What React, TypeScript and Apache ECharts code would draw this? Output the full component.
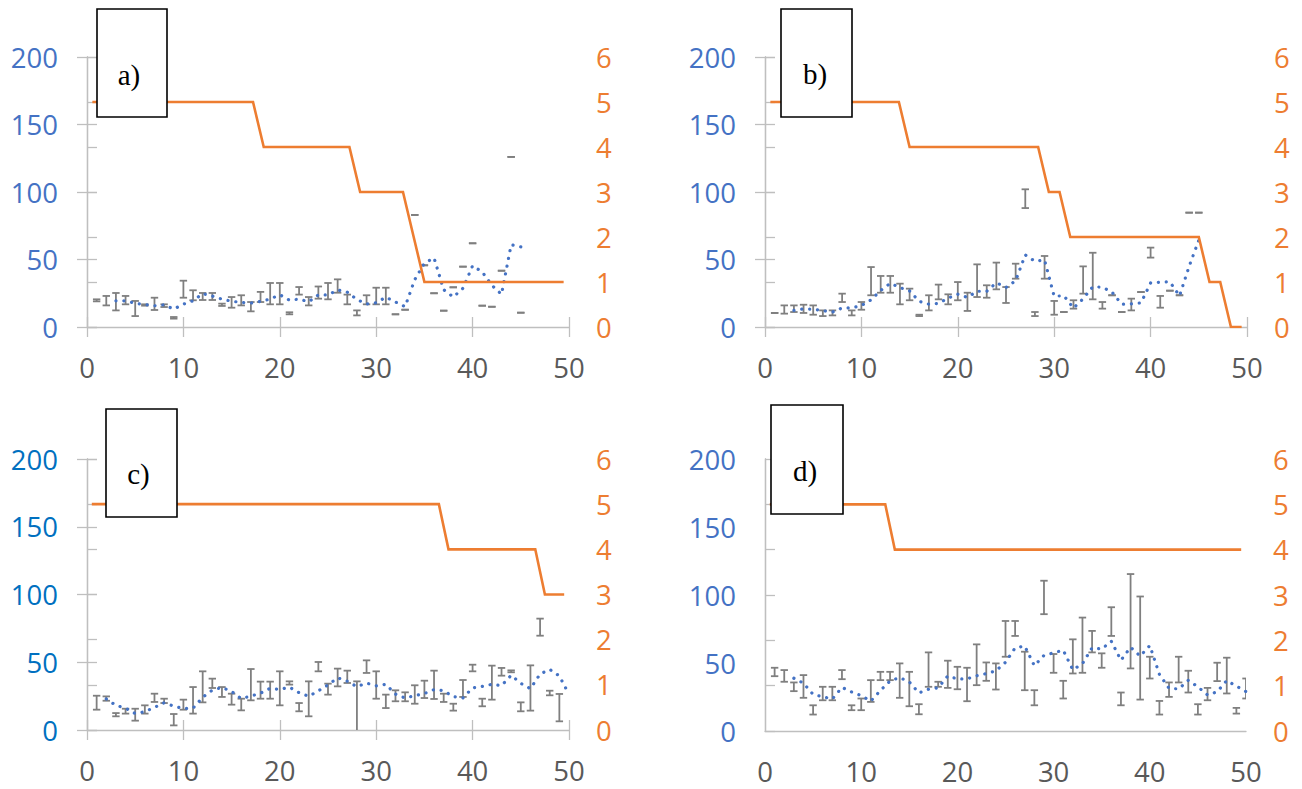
import React, { useEffect, useRef } from "react";
import * as echarts from "echarts";

// ---------- DATA ----------
// Panel a) error bars (x = 1..45): low / high
const aLow = [19, 16, 12.3, 16.8, 8.1, 15.8, 12.6, 14.8, 6.2, 21.7, 19.8, 20, 20, 15.6, 14.3, 16, 11.6, 18.5, 16.8, 16.8, 9.4, 24, 16, 21, 20.5, 25.4, 16.8, 8.6, 16.8, 16.8, 16.8, 9.4, 12.8, 83, 45.7, 25, 12.1, 29.4, 44.7, 62, 15.8, 15, 41.7, 126, 10.6];
const aHigh = [20.5, 23, 25.2, 23, 19.3, 16.8, 21.7, 16.8, 7.4, 34.3, 27.2, 25.2, 25.2, 17.3, 22.2, 23.5, 18.5, 26, 32.6, 32.6, 10.9, 29.6, 22.2, 30, 32.6, 35.3, 24, 12.3, 23.5, 29.1, 29.1, 9.4, 12.8, 83, 45.7, 25, 12.1, 29.4, 44.7, 62, 15.8, 15, 41.7, 126, 10.6];
// moving-average trend (x = 3..45)
const aTrend = [19.4, 19.4, 17.5, 16.6, 15.7, 16.4, 13.3, 16.9, 19.4, 24.7, 22.9, 20.6, 19.1, 18.2, 17.7, 19, 20.7, 23.9, 19.9, 20.6, 18.7, 23.8, 23.7, 27.5, 25.8, 20.4, 17, 17.9, 22.1, 18.5, 15.1, 35.1, 47.2, 51.2, 27.6, 22.2, 28.7, 45.4, 40.8, 30.9, 24.2, 60.9, 59.4];
const aStep = [5, 5, 5, 5, 5, 5, 5, 5, 5, 5, 5, 5, 5, 5, 5, 5, 4, 4, 4, 4, 4, 4, 4, 4, 4, 3, 3, 3, 3, 3, 2, 1, 1, 1, 1, 1, 1, 1, 1, 1, 1, 1, 1, 1, 1];

// Panel b)
const bLow = [10.4, 9.9, 11.1, 10.4, 9.1, 8.1, 8.6, 18.5, 8.6, 12.8, 23.5, 25.4, 25.4, 16.8, 19.8, 8.1, 12.3, 20.5, 16.8, 19.8, 11.9, 22.2, 21.7, 27.9, 17.8, 35.8, 88.1, 8.1, 35.8, 9.1, 11.1, 13.6, 24.7, 20.5, 13.6, 23.5, 11.1, 12.3, 25.9, 51.4, 14.3, 26.9, 23.5, 84.7, 84.7];
const bHigh = [10.4, 16, 16, 16.5, 16, 12.3, 12.3, 24.7, 12.3, 18.5, 44.4, 37.8, 37.8, 32.1, 28.4, 9.1, 23.5, 31.4, 24.2, 33.3, 25.4, 46.4, 30.9, 47.7, 29.6, 46.9, 102, 11.1, 52.6, 19.3, 11.1, 19.8, 44.9, 55, 18.5, 23.5, 11.1, 21, 25.9, 58.8, 23, 26.9, 23.5, 84.7, 84.7];
const bTrend = [12.3, 13.4, 13.2, 12.1, 11.1, 14.1, 14.2, 15.9, 20.1, 27.1, 32.4, 29.2, 26.7, 19, 16.9, 17.5, 21.4, 24.3, 21.9, 26.5, 26.4, 32.8, 29.3, 34.3, 53.4, 48.7, 49.6, 22.7, 23.2, 14, 20.9, 29.8, 29.5, 25.8, 16.9, 17.1, 17.9, 32.6, 33.2, 33.5, 23, 45, 64.3];
const bStep = [5, 5, 5, 5, 5, 5, 5, 5, 5, 5, 5, 5, 5, 4, 4, 4, 4, 4, 4, 4, 4, 4, 4, 4, 4, 4, 3, 3, 2, 2, 2, 2, 2, 2, 2, 2, 2, 2, 2, 2, 2, 1, 1, 0, 0];

// Panel c)
const cLow = [15, 21.6, 10.1, 12.1, 6.9, 12.1, 20.7, 19.9, 3.4, 15, 12.1, 20.4, 31, 24.4, 18.7, 14.5, 21.9, 23.1, 23.1, 18.2, 33.5, 13.8, 10.1, 43.3, 26.1, 32.2, 34.7, -2, 42.1, 23.1, 16.2, 21.2, 21.2, 19.4, 23.6, 22.9, 20.7, 14.3, 24.4, 43.3, 17.5, 22.4, 40.1, 42.6, 13.8, 14.3, 69.6, 25.6, 6.4];
const cHigh = [25.3, 24.8, 12.5, 15.7, 15.7, 18.2, 26.8, 23.1, 11.8, 22.4, 31.7, 43.3, 37.9, 31.7, 26.8, 23.1, 45, 35.7, 35.7, 43.3, 35.9, 19.9, 35.9, 50.2, 34.2, 45.3, 43.8, 35.9, 51.4, 43.3, 26.1, 29.3, 27.8, 33, 36.4, 43.8, 26.8, 19.4, 36.9, 48.2, 23.1, 47.5, 45.8, 44, 20.4, 47.7, 82.2, 29, 26.6];
// trend x = 2..50
const cTrend = [22.9, 18.2, 16.1, 12.2, 13.5, 16.7, 20.1, 17.6, 15.9, 16.1, 24.2, 29.4, 31.4, 28.4, 23.2, 25, 27.2, 30.8, 29.9, 31.6, 27.5, 24.9, 28.9, 33.3, 38.5, 36, 32, 34.6, 32.6, 33.7, 26.5, 23.6, 25.3, 26.9, 29.8, 29, 24.6, 23.7, 31.1, 32.2, 33.7, 32.7, 40.4, 34.4, 30.5, 41.3, 44.7, 39.9, 26.3];
const cStep = [5, 5, 5, 5, 5, 5, 5, 5, 5, 5, 5, 5, 5, 5, 5, 5, 5, 5, 5, 5, 5, 5, 5, 5, 5, 5, 5, 5, 5, 5, 5, 5, 5, 5, 5, 5, 5, 4, 4, 4, 4, 4, 4, 4, 4, 4, 4, 3, 3, 3];

// Panel d)
const dLow = [40.3, 36.2, 29.3, 24.4, 12.1, 22.6, 22.6, 38.1, 15.3, 15.3, 21.4, 37.4, 37.4, 24.4, 18.2, 12.3, 32.5, 32.5, 31.7, 30.7, 21.9, 33.7, 36.9, 30.5, 54.6, 69.9, 30, 18.9, 85.9, 42.8, 23.9, 42.3, 42.8, 57.8, 46.5, 69.9, 18.9, 46, 23.1, 38.6, 12.1, 25.1, 35.7, 28.3, 12.1, 22.6, 36.7, 27.6, 12.8, 23.9];
const dHigh = [46.5, 44.8, 35.7, 41.1, 18.9, 32.5, 32.5, 44.8, 18.9, 23.9, 37.4, 43.5, 43.5, 49.7, 43.5, 19.7, 57.8, 36.2, 51.7, 47.2, 46.5, 63.7, 50.4, 49.7, 80.9, 80.9, 58.3, 30, 110.5, 56.6, 36.9, 67.4, 83.4, 73.6, 57.1, 91, 28.3, 115.4, 98.9, 54.6, 22.1, 35.7, 54.6, 44.3, 19.7, 31.7, 50.2, 53.9, 17, 38.6];
const dTrend = [38.8, 35.2, 26.9, 25.2, 23.5, 32.1, 28.7, 26, 22, 29.8, 36.8, 39.3, 36.1, 28, 30.7, 31.8, 40.4, 38.3, 38.3, 40.6, 42.2, 44.2, 50.5, 61.1, 62.5, 48, 55.6, 57.5, 59.4, 45, 49.5, 61.2, 60.2, 66, 52, 61.6, 55.1, 62.8, 41.6, 31.4, 30.9, 37.3, 32.5, 26.5, 28.8, 37.1, 33, 29];
const dStep = [5, 5, 5, 5, 5, 5, 5, 5, 5, 5, 5, 5, 5, 4, 4, 4, 4, 4, 4, 4, 4, 4, 4, 4, 4, 4, 4, 4, 4, 4, 4, 4, 4, 4, 4, 4, 4, 4, 4, 4, 4, 4, 4, 4, 4, 4, 4, 4, 4, 4];

const panelLabels = ["a)", "b)", "c)", "d)"];
const xFirst = 1; // first x of the error-bar points

const panels = [
  { low: aLow, high: aHigh, trend: aTrend, trendStart: 3, step: aStep },
  { low: bLow, high: bHigh, trend: bTrend, trendStart: 3, step: bStep },
  { low: cLow, high: cHigh, trend: cTrend, trendStart: 2, step: cStep },
  { low: dLow, high: dHigh, trend: dTrend, trendStart: 3, step: dStep },
];

// ---------- LAYOUT / STYLE ----------
const GRIDS = [
  { left: 87, top: 57, width: 482, height: 270 },
  { left: 765, top: 57, width: 482, height: 270 },
  { left: 87, top: 459, width: 482, height: 271 },
  { left: 765, top: 459, width: 481, height: 272 },
];
const SHOW_TICKS = [true, true, true, false];
const LEFT_COLORS = ["#4472C4", "#4472C4", "#0070C0", "#4472C4"];
const BOXES = [
  { x: 97, y: 9, w: 70, h: 108, tx: 129, ty: 75 },
  { x: 781, y: 9, w: 71, h: 108, tx: 815, ty: 74 },
  { x: 106, y: 409, w: 71, h: 108, tx: 138.5, ty: 474 },
  { x: 771, y: 405, w: 72, h: 109, tx: 805, ty: 471 },
];

const AXIS = "#BFBFBF";
const ORANGE = "#ED7D31";
const ERR = "#7F7F7F";
const FONT = "'Open Sans', 'Noto Sans', sans-serif";
const FS = 27.5;

function buildOption() {
  const grid: any[] = [];
  const xAxis: any[] = [];
  const yAxis: any[] = [];
  const series: any[] = [];

  panels.forEach((p, i) => {
    const g = GRIDS[i];
    grid.push({ ...g, containLabel: false });
    const ticks = SHOW_TICKS[i];
    const tickStyle = { color: AXIS, width: 1.3 };
    // x axes
    xAxis.push({
      gridIndex: i, type: "value", position: "bottom", min: 0, max: 50, interval: 10,
      axisLine: { show: true, lineStyle: { color: AXIS, width: 1.3 } },
      axisTick: { show: ticks, length: 10, lineStyle: tickStyle },
      axisLabel: { color: "#595959", fontSize: FS, fontFamily: FONT, margin: 26 },
      splitLine: { show: false },
    });
    xAxis.push({
      gridIndex: i, type: "value", position: "bottom", min: 0, max: 50, interval: 10,
      axisLine: { show: false },
      axisTick: { show: ticks, inside: true, length: 10, lineStyle: tickStyle },
      axisLabel: { show: false },
      splitLine: { show: false },
    });
    xAxis.push({
      gridIndex: i, type: "category", position: "top", show: false, boundaryGap: true,
      data: p.step.map((_, k) => String(k + 1)),
    });
    // y axes
    yAxis.push({
      gridIndex: i, type: "value", position: "left", min: 0, max: 200, interval: 50,
      axisLine: { show: true, lineStyle: { color: AXIS, width: 1.3 } },
      axisTick: { show: ticks, length: 10, lineStyle: tickStyle },
      axisLabel: { color: LEFT_COLORS[i], fontSize: FS, fontFamily: FONT, margin: 29 },
      splitLine: { show: false },
    });
    yAxis.push({
      gridIndex: i, type: "value", position: "right", min: 0, max: 6, interval: 1,
      axisLine: { show: true, lineStyle: { color: AXIS, width: 1.3 } },
      axisTick: { show: true, length: 10, lineStyle: tickStyle },
      axisLabel: { color: ORANGE, fontSize: FS, fontFamily: FONT, margin: 27 },
      splitLine: { show: false },
    });
    yAxis.push({
      gridIndex: i, type: "value", position: "left", min: 0, max: 200, interval: 50,
      axisLine: { show: false },
      axisTick: { show: ticks, inside: true, length: 10, lineStyle: tickStyle },
      axisLabel: { show: false },
      splitLine: { show: false },
    });

    // error bars
    series.push({
      type: "custom",
      xAxisIndex: 3 * i,
      yAxisIndex: 3 * i,
      clip: true,
      z: 3,
      encode: { x: 0, y: [1, 2] },
      data: p.low.map((lo, k) => [k + xFirst, lo, p.high[k]]),
      renderItem: (params: any, api: any) => {
        const x = api.value(0);
        const top = api.coord([x, api.value(2)]);
        const bot = api.coord([x, api.value(1)]);
        const hw = 3.7;
        const st = { stroke: ERR, lineWidth: 1.8, fill: null };
        return {
          type: "group",
          children: [
            { type: "line", shape: { x1: top[0], y1: top[1], x2: bot[0], y2: bot[1] }, style: st },
            { type: "line", shape: { x1: top[0] - hw, y1: top[1], x2: top[0] + hw, y2: top[1] }, style: st },
            { type: "line", shape: { x1: bot[0] - hw, y1: bot[1], x2: bot[0] + hw, y2: bot[1] }, style: st },
          ],
        };
      },
    });
    // trend (dotted)
    series.push({
      type: "line",
      xAxisIndex: 3 * i,
      yAxisIndex: 3 * i,
      z: 4,
      showSymbol: false,
      symbol: "none",
      data: p.trend.map((v, k) => [k + p.trendStart, v]),
      lineStyle: { color: "#4472C4", width: 3.2, type: [0.1, 7.8], cap: "round", join: "round" },
    });
    // orange step line
    series.push({
      type: "line",
      xAxisIndex: 3 * i + 2,
      yAxisIndex: 3 * i + 1,
      z: 5,
      showSymbol: false,
      symbol: "none",
      data: p.step,
      lineStyle: { color: ORANGE, width: 2.6, join: "miter" },
    });
  });

  const graphic = BOXES.map((b, i) => ({
    type: "group",
    z: 100,
    children: [
      {
        type: "rect",
        z: 100,
        shape: { x: b.x, y: b.y, width: b.w, height: b.h },
        style: { fill: "#FFFFFF", stroke: "#000000", lineWidth: 1.6 },
      },
      {
        type: "text",
        z: 101,
        x: b.tx,
        y: b.ty,
        style: {
          text: panelLabels[i],
          font: "29px 'Liberation Serif', 'Times New Roman', serif",
          fill: "#000000",
          align: "center",
          verticalAlign: "middle",
          textAlign: "center",
          textVerticalAlign: "middle",
        },
      },
    ],
  }));

  return { animation: false, backgroundColor: "#FFFFFF", grid, xAxis, yAxis, series, graphic };
}

export default function App() {
  const ref = useRef<HTMLDivElement>(null);
  useEffect(() => {
    if (!ref.current) return;
    const chart = echarts.init(ref.current, null, { renderer: "svg" });
    chart.setOption(buildOption());
    return () => chart.dispose();
  }, []);
  return (
    <div
      ref={ref}
      style={{ position: "absolute", left: 0, top: 0, width: 1302, height: 789, background: "#fff" }}
    />
  );
}
